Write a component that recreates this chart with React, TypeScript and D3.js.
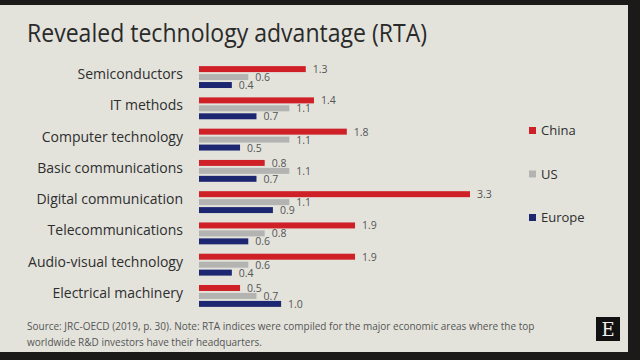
import React from "react";
import * as d3 from "d3";

const categories = [
  "Semiconductors",
  "IT methods",
  "Computer technology",
  "Basic communications",
  "Digital communication",
  "Telecommunications",
  "Audio-visual technology",
  "Electrical machinery",
];
const seriesNames = ["China", "US", "Europe"];
const china = [1.3, 1.4, 1.8, 0.8, 3.3, 1.9, 1.9, 0.5];
const us = [0.6, 1.1, 1.1, 1.1, 1.1, 0.8, 0.6, 0.7];
const europe = [0.4, 0.7, 0.5, 0.7, 0.9, 0.6, 0.4, 1.0];
const colors = ["#cf1f27", "#b3b3b1", "#1d2670"];

export default function App() {
  const W = 640, H = 360;
  const series = [china, us, europe];
  const x = d3.scaleLinear().domain([0, 3.3]).range([199, 470]);
  const y0 = d3.scaleBand<string>().domain(categories).range([63, 310]).paddingInner(0.3).paddingOuter(0.1);
  const y1 = d3.scaleBand<string>().domain(seriesNames).range([0, y0.bandwidth()]).paddingInner(0.25);
  const legendY = d3.scalePoint<string>().domain(seriesNames).range([131, 218]);
  const font = "'Open Sans', 'Liberation Sans', sans-serif";
  return (
    <svg width={W} height={H} style={{ position: "absolute", left: 0, top: 0 }} fontFamily={font}>
      <rect x={0} y={0} width={W} height={H} fill="#1c1a18" />
      <rect x={0} y={5} width={628} height={347} fill="#e3e3dc" />
      <text x={27} y={42} fontSize={25} fill="#2a2a2a" textLength={400} lengthAdjust="spacingAndGlyphs">
        Revealed technology advantage (RTA)
      </text>
      {categories.map((c, i) => (
        <g key={c}>
          <text x={183} y={(y0(c) as number) + y0.bandwidth() / 2 + 2} textAnchor="end" fontSize={14} fill="#2e2e2e">
            {c}
          </text>
          {series.map((s, j) => {
            const yy = (y0(c) as number) + (y1(seriesNames[j]) as number);
            return (
              <g key={j}>
                <rect x={x(0)} y={yy} width={x(s[i]) - x(0)} height={y1.bandwidth()} fill={colors[j]} />
                <text x={x(s[i]) + 7} y={yy + y1.bandwidth() / 2 + 4} fontSize={10.5} fill="#555">
                  {s[i].toFixed(1)}
                </text>
              </g>
            );
          })}
        </g>
      ))}
      {seriesNames.map((n, j) => (
        <g key={n}>
          <rect x={529} y={(legendY(n) as number) - 4} width={7} height={7} fill={colors[j]} />
          <text x={541} y={(legendY(n) as number) + 4} fontSize={13} fill="#2e2e2e">{n}</text>
        </g>
      ))}
      <text x={27} y={330} fontSize={10} fill="#555">
        Source: JRC-OECD (2019, p. 30). Note: RTA indices were compiled for the major economic areas where the top
      </text>
      <text x={27} y={346} fontSize={10} fill="#555">
        worldwide R&amp;D investors have their headquarters.
      </text>
      <rect x={596} y={317} width={24} height={24} fill="#111" />
      <text x={608} y={336} textAnchor="middle" fontSize={18} fill="#eee" fontFamily="'DejaVu Serif', serif">E</text>
    </svg>
  );
}
